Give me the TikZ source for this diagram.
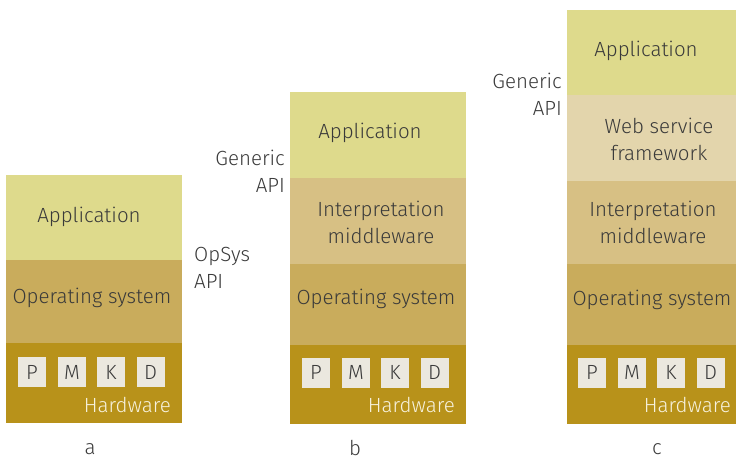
\documentclass[tikz,border=0pt]{standalone}
\usepackage{fontspec}
\setmainfont{Fira Sans}[UprightFont={* Light}]
\begin{document}
\begin{tikzpicture}[x=1pt,y=-1pt,
  layer/.style={draw=none,inner sep=0pt,outer sep=0pt,anchor=north west,minimum width=176pt},
  fnt/.style={font=\fontsize{20.5}{27}\selectfont},
  lbl/.style={fnt,text=txtc,inner sep=0pt,align=center},
  chip/.style={fnt,fill=chipc,inner sep=0pt,minimum width=28pt,minimum height=30pt,text=txtc},
  hw/.style={fnt,text=hwtxt,inner sep=0pt,anchor=east},
  api/.style={fnt,text=txtc,inner sep=0pt}]
\definecolor{appc}{HTML}{DEDA8C}
\definecolor{osc}{HTML}{C9AC5C}
\definecolor{hwc}{HTML}{B8921A}
\definecolor{midc}{HTML}{D7C084}
\definecolor{webc}{HTML}{E3D5AC}
\definecolor{chipc}{HTML}{EBE8DF}
\definecolor{txtc}{HTML}{3A3A3A}
\definecolor{hwtxt}{HTML}{F7F2DE}
\useasboundingbox (0,0) rectangle (736,461);
% stack a
\node[layer,fill=appc,minimum height=85pt] (aapp) at (6,175) {};
\node[layer,fill=osc,minimum height=83pt] (aos) at (6,260) {};
\node[layer,fill=hwc,minimum height=80pt] (ahw) at (6,343) {};
\node[lbl] (aappt) at (89,217) {Application};
\node[lbl] (aost) at (92,298) {Operating system};
\node[chip] (ap) at (32,372) {P};
\node[chip] (am) at (72,372) {M};
\node[chip] (ak) at (111,372) {K};
\node[chip] (ad) at (150.5,372) {D};
\node[hw] (ahwt) at (171,405) {Hardware};
\node[api,anchor=west,align=left] (aapi) at (194,268) {OpSys\\API};
\node[lbl] (la) at (90,449) {a};
% stack b
\node[layer,fill=appc,minimum height=86pt] (bapp) at (290,92) {};
\node[layer,fill=midc,minimum height=86pt] (bmid) at (290,178) {};
\node[layer,fill=osc,minimum height=81pt] (bos) at (290,264) {};
\node[layer,fill=hwc,minimum height=79pt] (bhw) at (290,345) {};
\node[lbl] (bappt) at (370,133) {Application};
\node[lbl] (bmidt) at (381,222.5) {Interpretation\\middleware};
\node[lbl] (bost) at (376,299) {Operating system};
\node[chip] (bp) at (316,372.5) {P};
\node[chip] (bm) at (356,372.5) {M};
\node[chip] (bk) at (395,372.5) {K};
\node[chip] (bd) at (434.5,372.5) {D};
\node[hw] (bhwt) at (455,405) {Hardware};
\node[api,anchor=east,align=right] (bapi) at (285,171.5) {Generic\\API};
\node[lbl] (lb) at (355,448) {b};
% stack c
\node[layer,fill=appc,minimum height=85pt] (capp) at (567,10) {};
\node[layer,fill=webc,minimum height=86pt] (cweb) at (567,95) {};
\node[layer,fill=midc,minimum height=83pt] (cmid) at (567,181) {};
\node[layer,fill=osc,minimum height=81pt] (cos) at (567,264) {};
\node[layer,fill=hwc,minimum height=79pt] (chw) at (567,345) {};
\node[lbl] (cappt) at (646,51) {Application};
\node[lbl] (cwebt) at (659,139.5) {Web service\\framework};
\node[lbl] (cmidt) at (653,222.5) {Interpretation\\middleware};
\node[lbl] (cost) at (652,300) {Operating system};
\node[chip] (cp) at (592,372.5) {P};
\node[chip] (cm) at (632,372.5) {M};
\node[chip] (ck) at (671,372.5) {K};
\node[chip] (cd) at (710.5,372.5) {D};
\node[hw] (chwt) at (731,405) {Hardware};
\node[api,anchor=east,align=right] (capi) at (562,94.5) {Generic\\API};
\node[lbl] (lc) at (657,449) {c};
\end{tikzpicture}
\end{document}
